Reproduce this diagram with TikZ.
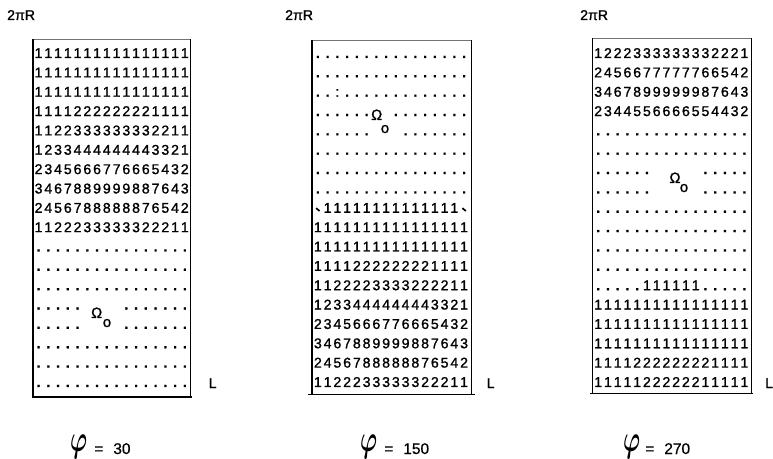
\documentclass[tikz,border=0pt]{standalone}
\usepackage{fontspec}
\usepackage{graphicx}
\setmainfont{Liberation Sans}[FakeBold=1.2]
\newfontfamily\labelfont{Liberation Sans}[FakeBold=0.6]

\newlength\cellw
\setlength\cellw{9.75bp}
\newcommand\gridtick{\raisebox{4bp}{\rotatebox{-40}{\rule{4.5bp}{1.7bp}}}}
\newcommand\gridcell[1]{\ifx#1d\textbf{.}\else\ifx#1x\else\ifx#1s\gridtick\else\ifx#1c:\else#1\fi\fi\fi\fi}
\def\gridrowaux#1{\ifx#1\relax\else\makebox[\cellw]{\gridcell#1}\expandafter\gridrowaux\fi}
\newcommand\gridrow[1]{\expandafter\gridrowaux#1\relax}
\newcommand\phisym{\raisebox{3bp}{\scalebox{1.6}[2.6]{\fontsize{14.4}{14.4}\selectfont\boldmath$\varphi$}}}

\begin{document}
\begin{tikzpicture}[x=1bp,y=-1bp]
  \tikzset{every node/.style={inner sep=0pt,font=\fontsize{14.2}{14.2}\selectfont},
    gridrow/.style={anchor=base west},
    omega/.style={anchor=base,font=\fontsize{15}{15}\selectfont},
    philabel/.style={anchor=base west,font=\labelfont\fontsize{15.5}{15.5}\selectfont},
    boxside/.style={line width=1.1pt},
    boxtop/.style={line width=.55pt,black!55},
    boxbottom/.style={line width=1.4pt}}

  \useasboundingbox (0,0) rectangle (773,459);

  \foreach \rowtext [count=\r] in {1111111111111111,1111111111111111,1111111111111111,
      1111222222221111,1122333333332211,1233444444443321,2345666776665432,
      3467889999887643,2456788888876542,1122233333322211,dddddddddddddddd,
      dddddddddddddddd,dddddddddddddddd,dddddxxxxddddddd,dddddxxxxddddddd,
      dddddddddddddddd,dddddddddddddddd,dddddddddddddddd}
    \node[gridrow] (a\r) at (33.5,{58+(\r-1)*19.35}) {\gridrow{\rowtext}};

  \foreach \rowtext [count=\r] in {dddddddddddddddd,dddddddddddddddd,ddcddddddddddddd,
      ddddddxxdddddddd,ddddddxxxddddddd,dddddddddddddddd,dddddddddddddddd,
      dddddddddddddddd,s11111111111111s,1111111111111111,1111111111111111,
      1111222222221111,1122223333222211,1233444444443321,2345666776665432,
      3467889999887643,2456788888876542,1122233333322211}
    \node[gridrow] (b\r) at (312.8,{58+(\r-1)*19.35}) {\gridrow{\rowtext}};

  \foreach \rowtext [count=\r] in {1222333333332221,2456677777766542,3467899999987643,
      2344556666554432,dddddddddddddddd,dddddddddddddddd,ddddddxxxxxddddd,
      ddddddxxxxxddddd,dddddddddddddddd,dddddddddddddddd,dddddddddddddddd,
      dddddddddddddddd,ddddd111111ddddd,1111111111111111,1111111111111111,
      1111111111111111,1111222222221111,1111122222211111}
    \node[gridrow] (c\r) at (593.1,{58+(\r-1)*19.35}) {\gridrow{\rowtext}};

  \node[omega] (omA) at (96.7,318) {Ω};
  \node[omega] (oA)  at (107,327)  {o};
  \node[omega] (omB) at (376.7,120) {Ω};
  \node[omega] (oB)  at (385,133)  {o};
  \node[omega] (omC) at (675,183)  {Ω};
  \node[omega] (oC)  at (684,192)  {o};

  \draw[boxtop]    (33,39.5) -- (190.5,39.5);
  \draw[boxside]   (33,39.5) -- (33,397) (190.5,39.5) -- (190.5,397);
  \draw[boxbottom] (31.7,397) -- (192,397);

  \draw[boxtop]    (312,40) -- (471.5,40);
  \draw[boxside]   (312,40) -- (312,394.5) (471.5,40) -- (471.5,394.5);
  \draw[boxbottom] (308,394.5) -- (475,394.5);

  \draw[boxtop]    (592.3,38) -- (751.5,38);
  \draw[boxside]   (592.3,38) -- (592.3,393.5) (751.5,38) -- (751.5,393.5);
  \draw[boxbottom] (590,393.5) -- (753,393.5);

  \node[anchor=base west] (rA) at (7,20)   {2πR};
  \node[anchor=base west] (rB) at (285,20) {2πR};
  \node[anchor=base west] (rC) at (580,20) {2πR};

  \node[anchor=base west] (lA) at (208.5,388) {L};
  \node[anchor=base west] (lB) at (486.5,388) {L};
  \node[anchor=base west] (lC) at (765,388)   {L};

  \node[philabel] (phiA) at (70,454)  {\phisym\hspace{7bp}=\hspace{10bp}30};
  \node[philabel] (phiB) at (360,454) {\phisym\hspace{7bp}=\hspace{10bp}150};
  \node[philabel] (phiC) at (623,454) {\phisym\hspace{5bp}=\hspace{10bp}270};
\end{tikzpicture}
\end{document}
